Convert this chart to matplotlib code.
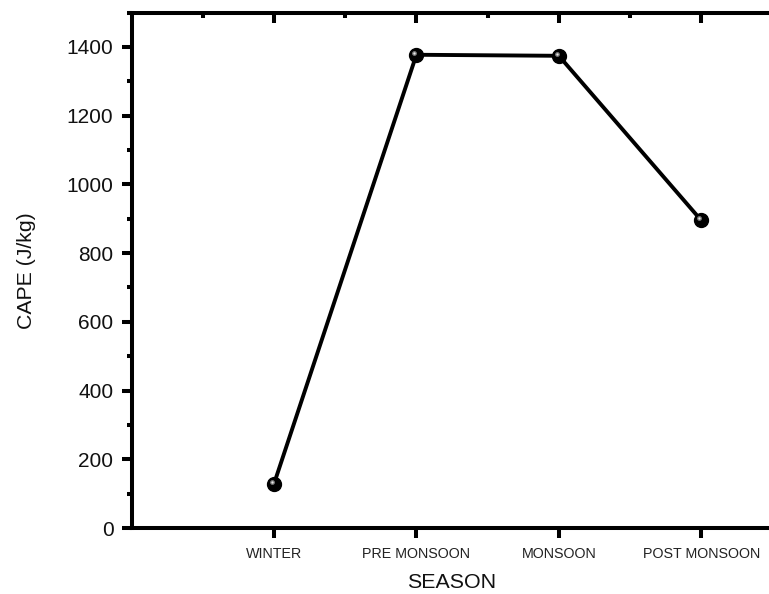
import matplotlib
matplotlib.use("Agg")
import matplotlib.pyplot as plt
from matplotlib.ticker import MultipleLocator, FixedLocator
import matplotlib.transforms as mtransforms

plt.rcParams['font.family'] = ['Liberation Sans', 'DejaVu Sans']

seasons = ["WINTER", "PRE MONSOON", "MONSOON", "POST MONSOON"]
positions = [1, 2, 3, 4]
cape = [128, 1377, 1374, 895]
yticks = [0, 200, 400, 600, 800, 1000, 1200, 1400]

fig = plt.figure(figsize=(7.69, 5.94), dpi=100)
ax = fig.add_axes([131.5/769, 66/594, 641/769, 515.5/594])

ax.plot(positions, cape, color='black', lw=2.8, zorder=3, solid_capstyle='round')
ax.plot(positions, cape, 'o', color='black', ms=10, zorder=4)
off = mtransforms.offset_copy(ax.transData, fig=fig, x=-1.6, y=1.6, units='points')
ax.plot(positions, cape, 'o', color='#7a7a7a', ms=3.5, mec='none', transform=off, zorder=5)
ax.plot(positions, cape, 'o', color='#e8e8e8', ms=1.6, mec='none', transform=off, zorder=6)

ax.set_xlim(0, 4.5)
ax.set_ylim(0, 1500)
ax.set_xticks(positions)
ax.set_xticklabels(seasons, fontsize=10.3, color='#222222')
ax.set_yticks(yticks)
ax.set_yticklabels([str(v) for v in yticks], fontsize=15, color='#111111')
ax.xaxis.set_minor_locator(FixedLocator([0.5, 1.5, 2.5, 3.5]))
ax.yaxis.set_minor_locator(MultipleLocator(100))

for s in ax.spines.values():
    s.set_linewidth(2.9)

ax.tick_params(axis='x', which='major', direction='out', length=7, width=2.9, pad=7,
               top=True, labeltop=False)
ax.tick_params(axis='x', which='minor', direction='out', length=0, width=2.9, top=True)
ax.tick_params(axis='y', which='major', direction='out', length=7, width=2.9, pad=6,
               right=True)
ax.tick_params(axis='y', which='minor', direction='out', length=3.5, width=2.9, right=True)

# top ticks point inward
for t in ax.xaxis.get_major_ticks():
    t.tick2line.set_markersize(7)
    t.tick2line.set_marker(3)  # TICKDOWN
for t in ax.xaxis.get_minor_ticks():
    t.tick2line.set_markersize(3.5)
    t.tick2line.set_marker(3)

ax.set_xlabel("SEASON", fontsize=15.4, labelpad=8, color='#111111')
ax.set_ylabel("CAPE (J/kg)", fontsize=15.3, labelpad=22, color='#111111')

fig.savefig("out.png", dpi=100)
